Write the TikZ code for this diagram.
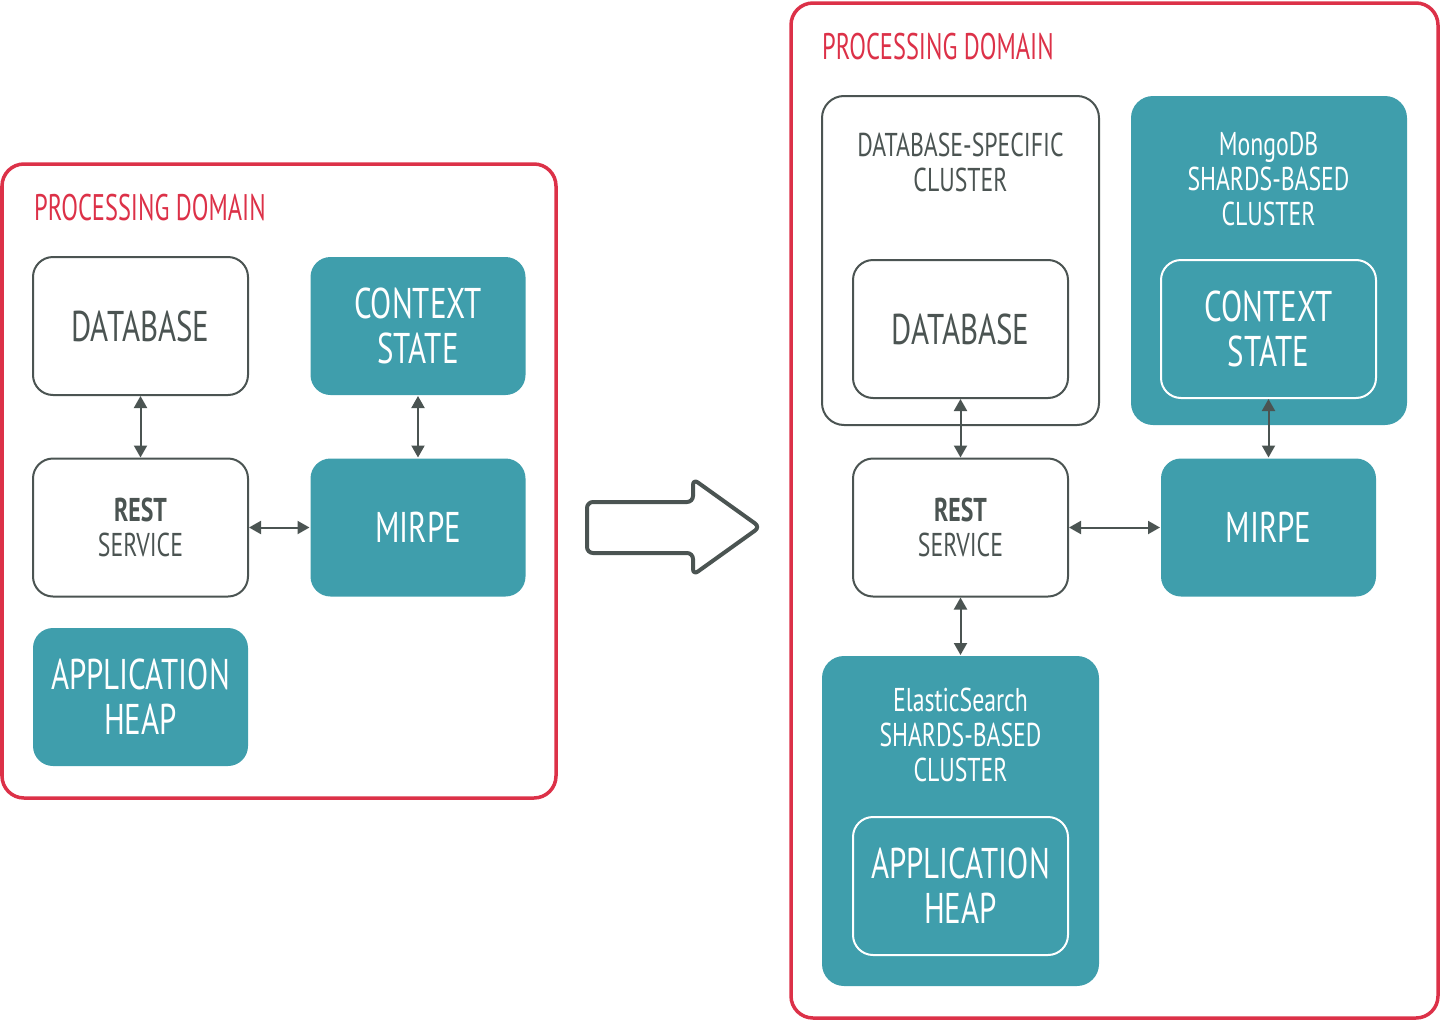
\documentclass[tikz,border=0pt]{standalone}
\usepackage{fontspec}
\setmainfont{PT Sans}[FakeStretch=0.72]
\newfontfamily\titlefont{PT Sans}[FakeStretch=0.66]
\usetikzlibrary{arrows.meta}
\definecolor{tealc}{HTML}{3F9EAC}
\definecolor{grayc}{HTML}{4B5452}
\definecolor{redc}{HTML}{DC3148}
\tikzset{
  x=1pt, y=-1pt,
  pdomain/.style={rectangle, draw=redc, line width=3.5, rounded corners=22, inner sep=0},
  dtitle/.style={anchor=base west, inner sep=0, text=redc, font=\titlefont\fontsize{37}{40}\selectfont},
  box/.style={rectangle, rounded corners=20, minimum width=215, minimum height=138, line width=2, inner sep=0, align=center, font=\fontsize{43}{45}\selectfont},
  wbox/.style={box, draw=grayc, fill=white, text=grayc},
  tbox/.style={box, fill=tealc, text=white},
  ibox/.style={box, draw=white, fill=tealc, text=white},
  small/.style={font=\fontsize{33}{35}\selectfont},
  cluster/.style={rectangle, rounded corners=22, line width=2, inner sep=0},
  ctext/.style={anchor=north, inner sep=0, align=center, font=\fontsize{33}{35}\selectfont},
  conn/.style={grayc, line width=2, {Triangle[length=12,width=13]}-{Triangle[length=12,width=13]}},
}
\begin{document}
\begin{tikzpicture}
\useasboundingbox (0,0) rectangle (1441,1020);
% left domain
\node[pdomain, minimum width=554, minimum height=634] (ldom) at (279,481) {};
\node[dtitle] (ltitle) at (34,220) {PROCESSING DOMAIN};
\node[wbox] (ldb) at (140.5,326) {DATABASE};
\node[tbox] (lctx) at (418,326) {CONTEXT\\STATE};
\node[wbox, small] (lrest) at (140.5,527.5) {\textbf{REST}\\SERVICE};
\node[tbox] (lmirpe) at (418,527.5) {MIRPE};
\node[tbox] (lheap) at (140.5,697) {APPLICATION\\HEAP};
\draw[conn] (ldb.south) -- (lrest.north);
\draw[conn] (lctx.south) -- (lmirpe.north);
\draw[conn] (lrest.east) -- (lmirpe.west);
% big arrow
\draw[grayc, line width=4, rounded corners=6, line join=round]
  (587,502) -- (693,502) -- (693,479) -- (760,527) -- (693,575) -- (693,553) -- (587,553) -- cycle;
% right domain
\node[pdomain, minimum width=647, minimum height=1015] (rdom) at (1114.5,510.5) {};
\node[dtitle] (rtitle) at (822,59) {PROCESSING DOMAIN};
\node[cluster, draw=grayc, fill=white, minimum width=277, minimum height=329] (dbcl) at (960.5,260.5) {};
\node[ctext, text=grayc] (dbclt) at (960.5,133) {DATABASE-SPECIFIC\\CLUSTER};
\node[cluster, fill=tealc, minimum width=276, minimum height=329] (mgcl) at (1269,260.5) {};
\node[ctext, text=white] (mgclt) at (1268.5,132) {MongoDB\\SHARDS-BASED\\CLUSTER};
\node[wbox] (rdb) at (960.5,329) {DATABASE};
\node[ibox] (rctx) at (1268.5,329) {CONTEXT\\STATE};
\node[wbox, small] (rrest) at (960.5,527.5) {\textbf{REST}\\SERVICE};
\node[tbox] (rmirpe) at (1268.5,527.5) {MIRPE};
\node[cluster, fill=tealc, minimum width=277, minimum height=330] (escl) at (960.5,821) {};
\node[ctext, text=white] (esclt) at (960.5,688) {ElasticSearch\\SHARDS-BASED\\CLUSTER};
\node[ibox] (rheap) at (960.5,886) {APPLICATION\\HEAP};
\draw[conn] (rdb.south) -- (rrest.north);
\draw[conn] (rctx.south) -- (rmirpe.north);
\draw[conn] (rrest.east) -- (rmirpe.west);
\draw[conn] (rrest.south) -- (escl.north);
\end{tikzpicture}
\end{document}
